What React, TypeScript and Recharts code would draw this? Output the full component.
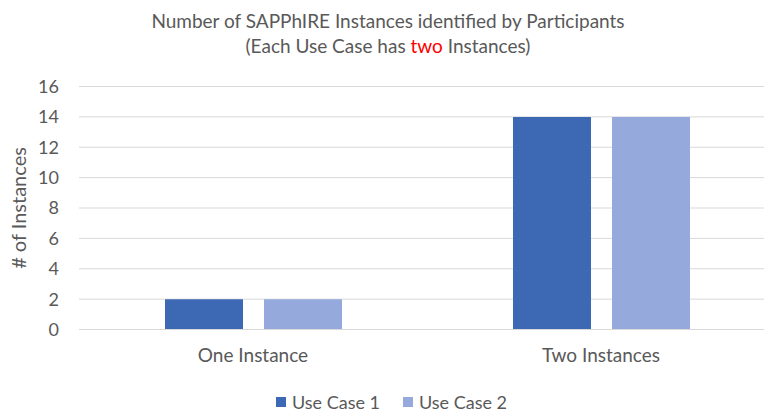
import { BarChart, Bar, XAxis, YAxis, CartesianGrid, Legend } from 'recharts';

const categories = ['One Instance', 'Two Instances'];
const useCase1 = [2, 14];
const useCase2 = [2, 14];
const yTicks = [0, 2, 4, 6, 8, 10, 12, 14, 16];

const data = categories.map((name, i) => ({
  name,
  uc1: useCase1[i],
  uc2: useCase2[i],
}));

const GRAY = '#595959';
const FONT = 'Lato, "Noto Sans", sans-serif';

const renderLegend = (props: any) => (
  <div
    style={{
      display: 'flex',
      justifyContent: 'center',
      alignItems: 'center',
      gap: 23,
      height: 20,
      lineHeight: '20px',
      fontSize: 18,
      color: GRAY,
      fontFamily: FONT,
      paddingLeft: 8,
    }}
  >
    {props.payload.map((entry: any) => (
      <span key={entry.value} style={{ display: 'flex', alignItems: 'center' }}>
        <span style={{ width: 10, height: 10, background: entry.color, marginRight: 6 }} />
        {entry.value}
      </span>
    ))}
  </div>
);

const yLabel = (props: any) => {
  const vb = props.viewBox;
  const x = vb.x + 18;
  const y = vb.y + vb.height / 2;
  return (
    <text
      x={x}
      y={y}
      transform={`rotate(-90, ${x}, ${y})`}
      textAnchor="middle"
      dominantBaseline="central"
      fill={GRAY}
      fontSize={20}
      fontFamily={FONT}
    >
      # of Instances
    </text>
  );
};

export default function App() {
  return (
    <div
      style={{
        position: 'absolute',
        left: 0,
        top: 0,
        width: 764,
        height: 412,
        overflow: 'hidden',
        background: '#fff',
        fontFamily: FONT,
      }}
    >
      <div
        style={{
          position: 'absolute',
          top: 8,
          left: 0,
          width: 776,
          textAlign: 'center',
          color: GRAY,
          fontSize: 19,
          lineHeight: '25px',
          zIndex: 1,
        }}
      >
        <div>Number of SAPPhIRE Instances identified by Participants</div>
        <div>
          (Each Use Case has <span style={{ color: '#ff0000' }}>two</span> Instances)
        </div>
      </div>
      <BarChart
        width={775}
        height={412}
        data={data}
        margin={{ top: 86.5, right: 0, left: 0, bottom: 22.5 }}
        barSize={78}
        barGap={21}
      >
        <CartesianGrid vertical={false} stroke="#d9d9d9" />
        <XAxis
          dataKey="name"
          height={40}
          axisLine={{ stroke: '#d9d9d9' }}
          tickLine={false}
          tickSize={0}
          tickMargin={19}
          tick={{ fill: GRAY, fontSize: 19, fontFamily: FONT }}
        />
        <YAxis
          width={79}
          domain={[0, 16]}
          ticks={yTicks}
          interval={0}
          axisLine={false}
          tickLine={false}
          tickSize={0}
          tickMargin={20}
          tick={{ fill: GRAY, fontSize: 18, fontFamily: FONT }}
          label={yLabel}
        />
        <Legend
          verticalAlign="bottom"
          content={renderLegend}
          wrapperStyle={{ bottom: 0 }}
        />
        <Bar dataKey="uc1" name="Use Case 1" fill="#3c68b4" isAnimationActive={false} />
        <Bar dataKey="uc2" name="Use Case 2" fill="#95a9dc" isAnimationActive={false} />
      </BarChart>
    </div>
  );
}
